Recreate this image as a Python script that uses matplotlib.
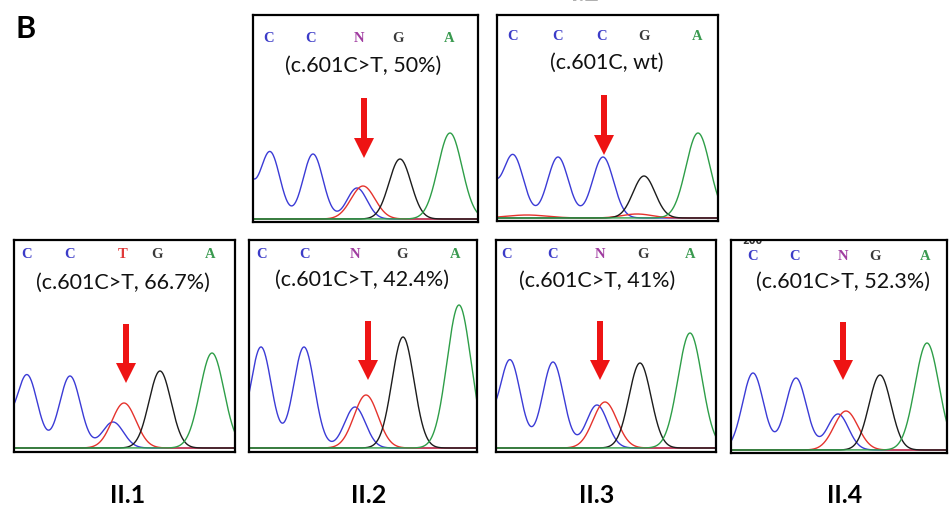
import numpy as np
import matplotlib
matplotlib.use("Agg")
import matplotlib.pyplot as plt
from matplotlib.patches import FancyArrow

# ---------------- data ----------------
panel_labels = ["II.1", "II.2", "II.3", "II.4"]
top_label = "I.2"
base_calls = [
    ["C", "C", "N", "G", "A"],
    ["C", "C", "C", "G", "A"],
    ["C", "C", "T", "G", "A"],
    ["C", "C", "N", "G", "A"],
    ["C", "C", "N", "G", "A"],
    ["C", "C", "N", "G", "A"],
]
annotations = [
    "(c.601C>T, 50%)",
    "(c.601C, wt)",
    "(c.601C>T, 66.7%)",
    "(c.601C>T, 42.4%)",
    "(c.601C>T, 41%)",
    "(c.601C>T, 52.3%)",
]
# peaks per channel: (scan position, signal height, peak width)
peaks_blue = [
    [(-14, 66, 10), (17, 67, 10), (60, 65, 10), (104, 31, 10)],
    [(-16, 63, 10.5), (16, 63, 10.5), (61, 61, 10.5), (106, 61, 10.5)],
    [(-20, 60, 10.5), (13, 73, 10.5), (56, 72, 10.5), (99, 26, 10.5)],
    [(-28, 60, 10.5), (12, 101, 10.5), (55, 101, 10.5), (106, 41, 10.5)],
    [(-20, 70, 10.5), (14, 88, 10.5), (57, 86, 10.5), (101, 43, 10.5)],
    [(22, 77, 10.5), (65, 72, 10.5), (107, 36, 10.5)],
]
peaks_red = [
    [(110, 33, 12)],
    [(30, 3, 20), (140, 4, 15)],
    [(110, 45, 12)],
    [(117, 53, 12)],
    [(109, 46, 12)],
    [(115, 39, 12)],
]
peaks_black = [
    [(147, 60, 11)],
    [(147, 42, 11)],
    [(146, 77, 11)],
    [(154, 111, 11)],
    [(144, 85, 11)],
    [(149, 75, 11)],
]
peaks_green = [
    [(197, 86, 12)],
    [(201, 85, 12)],
    [(198, 95, 12)],
    [(210, 143, 12)],
    [(194, 115, 12)],
    [(196, 107, 12)],
]

# ---------------- layout ----------------
W, H = 952, 507
boxes = [(253, 15, 478, 222), (497, 15, 718, 221),
         (14, 240, 235, 452), (249, 240, 477, 452),
         (496, 240, 716, 452), (731, 240, 947, 453)]
baselines = [219, 218, 448, 448, 448, 450]
letter_x = [[16, 58, 106, 145, 196], [16, 61, 105, 147, 200],
            [13, 56, 109, 143, 196], [13, 56, 106, 153, 206],
            [11, 57, 104, 147, 194], [22, 64, 112, 144, 194]]
letter_y = [39, 37, 255, 255, 255, 256]
text_pos = [(110, 66), (110, 63), (109, 283), (113, 280), (101, 281), (112, 282)]
arrow_pos = [(111, 98, 158), (107, 95, 155), (112, 324, 383),
             (119, 321, 380), (104, 321, 380), (112, 322, 380)]
label_x = [128, 369, 597, 845]

trace_colors = {"blue": "#3b3bd6", "red": "#e5332d", "black": "#1c1c1c", "green": "#2e9e48"}
base_colors = {"C": "#3c3cc8", "N": "#a03ca0", "G": "#3a3a3a", "A": "#3a9a50", "T": "#e03a3a"}

fig = plt.figure(figsize=(W / 100, H / 100), dpi=100)


def trace(xs, peaks):
    y = np.zeros_like(xs)
    for c, h, s in peaks:
        y += h * np.exp(-((xs - c) ** 2) / (2 * s ** 2))
    return y


for i in range(6):
    l, t, r, b = boxes[i]
    base = baselines[i]
    w = r - l
    ax = fig.add_axes([l / W, 1 - b / H, w / W, (b - t) / H])
    ax.set_xlim(0, w)
    ax.set_ylim(-(b - base), base - t)
    ax.set_xticks([])
    ax.set_yticks([])
    for sp in ax.spines.values():
        sp.set_linewidth(1.6)
        sp.set_color("black")
        sp.set_zorder(10)
    xs = np.linspace(0, w, 600)
    for name, pk in (("blue", peaks_blue), ("red", peaks_red),
                     ("black", peaks_black), ("green", peaks_green)):
        ax.plot(xs, trace(xs, pk[i]), color=trace_colors[name], lw=1.0,
                solid_capstyle="butt")
    for ch, lx in zip(base_calls[i], letter_x[i]):
        ax.text(lx, base - letter_y[i], ch, color=base_colors[ch], ha="center",
                va="center", fontsize=10.5, fontweight="bold",
                family=["Liberation Serif", "DejaVu Serif"])
    tx, ty = text_pos[i]
    ax.text(tx, base - ty, annotations[i], ha="center", va="center",
            fontsize=15.5, family=["Lato", "DejaVu Sans"], color="#111111")
    axx, ay0, ay1 = arrow_pos[i]
    ax.add_patch(FancyArrow(axx, base - ay0, 0, -(ay1 - ay0), width=6,
                            head_width=20, head_length=20,
                            length_includes_head=True, fc="#ee1414",
                            ec="none", zorder=5))
    if i == 5:
        ax.text(21, base - t - 1, "200", ha="center", va="center", fontsize=7,
                fontweight="bold", color="#333333", clip_on=True)

fig.text(15 / W, 1 - 38 / H, "B", ha="left", va="baseline", fontsize=22,
         fontweight="bold", family=["Lato", "DejaVu Sans"])
fig.text(585 / W, 1 - 1 / H, top_label, ha="center", va="baseline",
         fontsize=18, fontweight="bold", color="#b0b0b0",
         family=["Lato", "DejaVu Sans"])
for lab, lx in zip(panel_labels, label_x):
    fig.text(lx / W, 1 - 503 / H, lab, ha="center", va="baseline",
             fontsize=18, fontweight="bold", family=["Lato", "DejaVu Sans"])

fig.savefig("out.png", dpi=100, facecolor="white")
